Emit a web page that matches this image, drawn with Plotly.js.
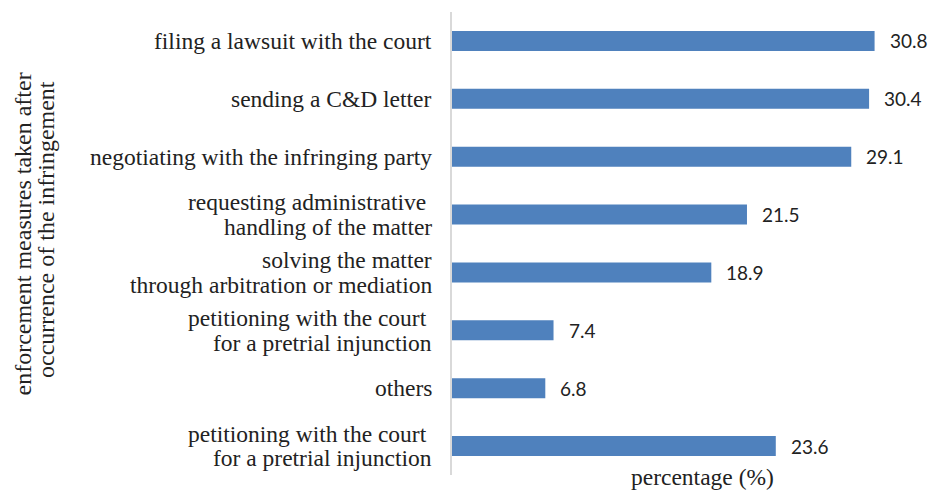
<!DOCTYPE html>
<html>
<head>
<meta charset="utf-8">
<script src="https://cdn.plot.ly/plotly-3.0.1.min.js"></script>
<style>html,body{margin:0;padding:0;background:#fff;}#chart{width:932px;height:492px;}</style>
</head>
<body>
<div id="chart"></div>
<script>
// Category labels (each entry = lines of the label)
const categories = [
  ["filing a lawsuit with the court"],
  ["sending a C&D letter"],
  ["negotiating with the infringing party"],
  ["requesting administrative\u00a0", "handling of the matter"],
  ["solving the matter", "through arbitration or mediation"],
  ["petitioning with the court\u00a0", "for a pretrial injunction"],
  ["others"],
  ["petitioning with the court\u00a0", "for a pretrial injunction"]
];
const values = [30.8, 30.4, 29.1, 21.5, 18.9, 7.4, 6.8, 23.6];
const valueLabels = ["30.8", "30.4", "29.1", "21.5", "18.9", "7.4", "6.8", "23.6"];
const xTitle = "percentage (%)";
const yTitleLines = ["enforcement measures taken after", "occurrence of the infringement"];

const pos = categories.map((c, i) => i);

const serif = "Liberation Serif";
const sans = "Lato";
const textColor = "#222222";

const trace = {
  type: "bar",
  orientation: "h",
  x: values,
  y: pos,
  marker: {color: "#4F81BD", line: {width: 0}},
  hoverinfo: "none"
};

const annotations = [];
// value labels
values.forEach((v, i) => annotations.push({
  x: v, y: pos[i], xref: "x", yref: "y",
  text: valueLabels[i], showarrow: false,
  xanchor: "left", yanchor: "middle", xshift: 13,
  font: {family: sans, size: 19, color: textColor}
}));
// category labels
categories.forEach((lines, i) => {
  const n = lines.length;
  lines.forEach((ln, k) => annotations.push({
    x: 0, y: pos[i], xref: "x", yref: "y",
    text: ln, showarrow: false,
    xanchor: "right", yanchor: "middle", xshift: -18,
    yshift: ((n - 1) / 2 - k) * 24.5,
    font: {family: serif, size: 23.5, color: textColor}
  }));
});
// x title
annotations.push({
  xref: "paper", yref: "paper", x: (702 - 452) / 460, y: -(492 - 475) / 463,
  xanchor: "center", yanchor: "bottom",
  text: xTitle, showarrow: false,
  font: {family: serif, size: 23.5, color: textColor}
});
// y title (two lines)
const yTitleX = [22, 45.5];
const yTitleY = [234.5, 229.5];
yTitleLines.forEach((ln, k) => annotations.push({
  xref: "paper", yref: "paper", x: -(452 - yTitleX[k]) / 460, y: (475 - yTitleY[k]) / 463,
  xanchor: "center", yanchor: "middle", textangle: -90,
  text: ln, showarrow: false,
  font: {family: serif, size: 24, color: textColor}
}));

const layout = {
  width: 932, height: 492,
  margin: {l: 452, r: 20, t: 12, b: 17},
  paper_bgcolor: "#ffffff", plot_bgcolor: "#ffffff",
  showlegend: false,
  bargap: 0.655,
  xaxis: {
    range: [0, 460 / 13.72],
    showgrid: false, zeroline: false, showticklabels: false, ticks: "",
    showline: false, fixedrange: true
  },
  yaxis: {
    autorange: false,
    range: [pos.length - 0.5, -0.5],
    showticklabels: false,
    showgrid: false, zeroline: false, ticks: "",
    showline: true, linecolor: "#d9d9d9", linewidth: 2,
    fixedrange: true
  },
  annotations: annotations
};

Plotly.newPlot("chart", [trace], layout, {displayModeBar: false, staticPlot: true});
</script>
</body>
</html>
